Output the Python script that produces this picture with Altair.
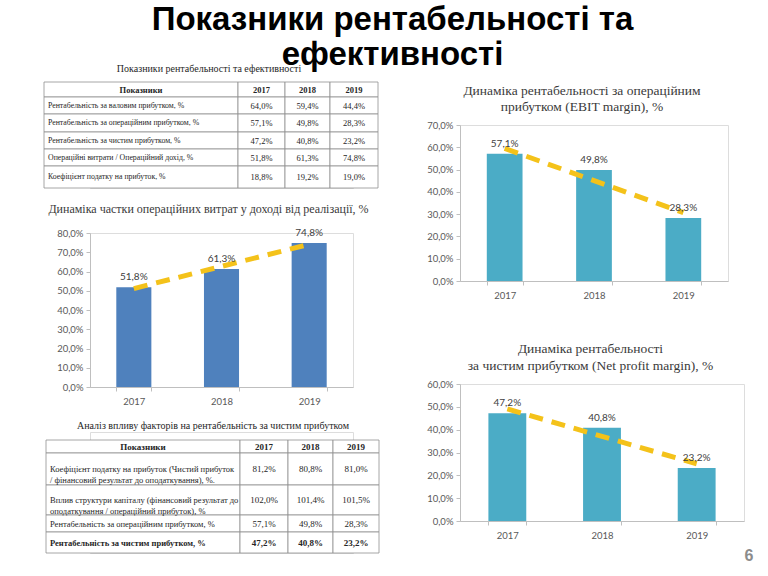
import altair as alt
import pandas as pd

# ---------------- data ----------------
years = [2017, 2018, 2019]
opex_share = [51.8, 61.3, 74.8]
ebit_margin = [57.1, 49.8, 28.3]
net_margin = [47.2, 40.8, 23.2]

main_title = ["Показники рентабельності та", "ефективності"]
chart1_title = ["Динаміка частки операційних витрат у доході від реалізації, %"]
chart2_title = ["Динаміка рентабельності за операційним", "прибутком (EBIT margin), %"]
chart3_title = ["Динаміка рентабельності", "за чистим прибутком (Net profit margin), %"]

t_header = ["Показники", "2017", "2018", "2019"]

t1_caption = ["Показники рентабельності та ефективності"]
t1_labels = [
    "Рентабельність за валовим прибутком, %",
    "Рентабельність за операційним прибутком, %",
    "Рентабельність за чистим прибутком, %",
    "Операційні витрати / Операційний дохід, %",
    "Коефіцієнт податку на прибуток, %",
]
t1_v2017 = ["64,0%", "57,1%", "47,2%", "51,8%", "18,8%"]
t1_v2018 = ["59,4%", "49,8%", "40,8%", "61,3%", "19,2%"]
t1_v2019 = ["44,4%", "28,3%", "23,2%", "74,8%", "19,0%"]

t2_caption = ["Аналіз впливу факторів на рентабельність за чистим прибутком"]
t2_labels = [
    "Коефіцієнт податку на прибуток  (Чистий прибуток\n/ фінансовий результат  до оподаткування), %.",
    "Вплив структури капіталу (фінансовий результат до\nоподаткування / операційний прибуток), %",
    "Рентабельність за операційним прибутком, %",
    "Рентабельність за чистим прибутком, %",
]
t2_v2017 = ["81,2%", "102,0%", "57,1%", "47,2%"]
t2_v2018 = ["80,8%", "101,4%", "49,8%", "40,8%"]
t2_v2019 = ["81,0%", "101,5%", "28,3%", "23,2%"]

page_number = "6"

# ---------------- style ----------------
SERIF = "Liberation Serif"
SANS = "Lato"
GRID = "#8f8f8f"
TXT = "#262626"
AX = "#bfbfbf"
LAB = "#595959"
TITLE_C = "#3a3a3a"
BLUE = "#4f81bd"
AQUA = "#4bacc6"
TREND = "#f4c21a"
PCT = "replace(format(datum.value, '.1f'), '.', ',') + '%'"


def note(lines, x, y, size, lh, color, font=SERIF, weight="normal"):
    """Title / caption text placed relative to the panel's plot area."""
    return alt.Chart(pd.DataFrame({"t": ["\n".join(lines)]})).mark_text(
        align="center", baseline="alphabetic", font=font, fontSize=size, fontWeight=weight,
        lineHeight=lh, lineBreak="\n", color=color).encode(
        x=alt.value(x), y=alt.value(y), text="t:N")


def make_table(labels, v17, v18, v19, col_w, row_h, x_off, y_off, view_w, view_h,
               fs_label, fs_value, lh, bold_last, caption, cap_x, cap_y):
    xe = [0.0]
    for w in col_w:
        xe.append(xe[-1] + w)
    ye = [0.0]
    for h in row_h:
        ye.append(ye[-1] + h)
    rows = [t_header] + [[labels[i], v17[i], v18[i], v19[i]] for i in range(len(labels))]
    n = len(rows)
    recs = []
    for r, row in enumerate(rows):
        for c, txt in enumerate(row):
            is_label = c == 0 and r > 0
            bold = r == 0 or (bold_last and r == n - 1)
            recs.append({
                "x0": xe[c], "x1": xe[c + 1], "y0": ye[r], "y1": ye[r + 1],
                "tx": xe[c] + 4 if is_label else (xe[c] + xe[c + 1]) / 2,
                "ty": (ye[r] + ye[r + 1]) / 2,
                "txt": txt,
                "kind": ("L" if is_label else "C") + ("B" if bold else "N"),
            })
    df = pd.DataFrame(recs)
    xs = alt.Scale(domain=[0, xe[-1]], range=[x_off, x_off + xe[-1]], nice=False, zero=False)
    ys = alt.Scale(domain=[0, ye[-1]], range=[y_off, y_off + ye[-1]], nice=False, zero=False)
    base = alt.Chart(df)
    layers = [base.mark_rect(fill="white", stroke=GRID, strokeWidth=0.8).encode(
        x=alt.X("x0:Q", scale=xs, axis=None), x2="x1:Q",
        y=alt.Y("y0:Q", scale=ys, axis=None), y2="y1:Q")]
    for kind in ["LN", "LB", "CN", "CB"]:
        layers.append(base.transform_filter(alt.datum.kind == kind).mark_text(
            align="left" if kind[0] == "L" else "center", baseline="middle",
            font=SERIF, fontSize=fs_label if kind[0] == "L" else fs_value, lineHeight=lh,
            lineBreak="\n", fontWeight="bold" if kind[1] == "B" else "normal", color=TXT).encode(
            x=alt.X("tx:Q", scale=xs, axis=None),
            y=alt.Y("ty:Q", scale=ys, axis=None),
            text="txt:N"))
    layers.append(note(caption, cap_x, cap_y, 10, 12, TXT))
    return alt.layer(*layers).properties(width=view_w, height=view_h)


def make_bar(values, color, ymax, w, h, title, title_fs, title_lh, title_x, title_y, extra=None):
    df = pd.DataFrame({"year": years, "value": values})
    base = alt.Chart(df)
    xax = alt.Axis(title=None, labelAngle=0, tickBand="extent", domainColor=AX, tickColor=AX,
                   tickSize=4, labelFont=SANS, labelFontSize=9.5, labelColor=LAB, labelPadding=5)
    yax = alt.Axis(title=None, values=list(range(0, ymax + 1, 10)), labelExpr=PCT, grid=False,
                   labelOverlap=False, domainColor=AX, tickColor=AX, tickSize=4, labelFont=SANS,
                   labelFontSize=9.5, labelColor=LAB, labelPadding=3)
    x = alt.X("year:O", scale=alt.Scale(paddingInner=0.6, paddingOuter=0.3), axis=xax)
    y = alt.Y("value:Q", scale=alt.Scale(domain=[0, ymax], nice=False), axis=yax)
    bars = base.mark_bar(color=color).encode(x=x, y=y)
    trend = base.transform_regression("year", "value").mark_line(
        color=TREND, strokeWidth=5, strokeDash=[14, 9]).encode(x=x, y=y)
    lbl = base.transform_calculate(lbl="replace(format(datum.value, '.1f'), '.', ',') + '%'").mark_text(
        baseline="bottom", dy=-5, font=SANS, fontSize=10, color="#404040").encode(
        x=x, y=y, text="lbl:N")
    layers = [bars, trend, lbl, note(title, title_x, title_y, title_fs, title_lh, TITLE_C)]
    if extra is not None:
        layers.append(extra)
    return alt.layer(*layers).properties(width=w, height=h)


# left column: origin = top of chart2 plot (y=125 on the slide)
table1 = make_table(t1_labels, t1_v2017, t1_v2018, t1_v2019,
                    col_w=[194, 47, 45, 48], row_h=[15, 17, 18, 17, 17, 22],
                    x_off=-46, y_off=-43, view_w=263, view_h=63,
                    fs_label=7.8, fs_value=8.5, lh=10, bold_last=False,
                    caption=t1_caption, cap_x=119, cap_y=-53.5)

chart1 = make_bar(opex_share, BLUE, 80, 263, 154, chart1_title, 12, 14, 118.5, -20)

table2 = make_table(t2_labels, t2_v2017, t2_v2018, t2_v2019,
                    col_w=[194, 48, 45, 46], row_h=[13, 32, 30, 17, 21],
                    x_off=-44, y_off=8, view_w=263, view_h=121,
                    fs_label=8.5, fs_value=9, lh=11, bold_last=True,
                    caption=t2_caption, cap_x=123, cap_y=-3)

page = alt.Chart(pd.DataFrame({"t": [page_number]})).mark_text(
    font="Liberation Sans", fontSize=16, fontWeight="bold", color="#8c8c8c",
    baseline="middle").encode(x=alt.value(289), y=alt.value(172), text="t:N")

chart2 = make_bar(ebit_margin, AQUA, 70, 268, 156, chart2_title, 13.5, 16, 122, -29.6)
chart3 = make_bar(net_margin, AQUA, 60, 284, 137, chart3_title, 13.5, 16.7, 130.5, -31, extra=page)

left = alt.vconcat(table1, chart1, table2, spacing=45, bounds="flush")
right = alt.vconcat(chart2, chart3, spacing=103, bounds="flush")

chart = alt.hconcat(
    left, right, spacing=46,
    title=alt.TitleParams(text=main_title, font="Liberation Sans", fontSize=33, fontWeight="bold",
                          color="black", lineHeight=35.5, anchor="middle", baseline="top",
                          offset=-9, dx=-6),
).properties(
    padding={"left": 43, "top": 3, "right": 10, "bottom": 5}
).configure_view(stroke=None).configure(background="white")

chart.save("out.html", embed_options={"renderer": "svg", "actions": False})
